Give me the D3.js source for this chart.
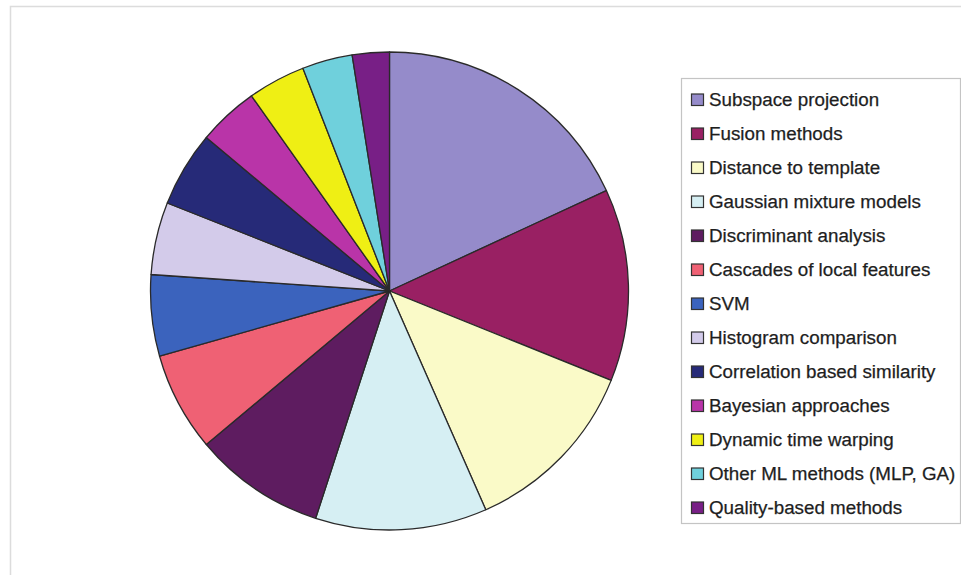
<!DOCTYPE html>
<html>
<head>
<meta charset="utf-8">
<script src="https://cdn.jsdelivr.net/npm/d3@7"></script>
<style>
  html, body { margin: 0; padding: 0; background: #ffffff; }
  svg { display: block; }
  text { font-family: "Liberation Sans", Arial, Helvetica, sans-serif; }
</style>
</head>
<body>
<svg id="chart" width="961" height="575"></svg>
<script>
const categories = [
  "Subspace projection",
  "Fusion methods",
  "Distance to template",
  "Gaussian mixture models",
  "Discriminant analysis",
  "Cascades of local features",
  "SVM",
  "Histogram comparison",
  "Correlation based similarity",
  "Bayesian approaches",
  "Dynamic time warping",
  "Other ML methods (MLP, GA)",
  "Quality-based methods"
];
const values = [18.1, 13.0, 12.3, 11.6, 8.9, 6.7, 5.5, 4.9, 5.1, 4.1, 3.9, 3.4, 2.5];
const colors = [
  "#958bca", "#992063", "#fafac8", "#d6eff3", "#5e1c60", "#ef6174", "#3b63bd",
  "#d3cbea", "#262a78", "#b934a8", "#efef14", "#6fd0dc", "#781f86"
];

const svg = d3.select("#chart");

// outer light frame
svg.append("rect")
  .attr("x", 10.5).attr("y", 6.5)
  .attr("width", 970).attr("height", 600)
  .attr("fill", "none").attr("stroke", "#dcdcdc").attr("stroke-width", 1.5);

const cx = 389.5, cy = 291, r = 239;

const data = categories.map((c, i) => ({ name: c, value: values[i], color: colors[i] }));

const pie = d3.pie().value(d => d.value).sort(null)
  .startAngle(0).endAngle(2 * Math.PI);
const arc = d3.arc().innerRadius(0).outerRadius(r);

const g = svg.append("g").attr("transform", `translate(${cx},${cy})`);
g.selectAll("path")
  .data(pie(data))
  .join("path")
  .attr("d", arc)
  .attr("fill", d => d.data.color)
  .attr("stroke", "#2a2a2a")
  .attr("stroke-width", 1.3)
  .attr("stroke-linejoin", "round");

// legend
const lx = 681, ly = 78, lw = 279, lh = 445;
svg.append("rect")
  .attr("x", lx + 0.5).attr("y", ly + 0.5)
  .attr("width", lw).attr("height", lh)
  .attr("fill", "#ffffff").attr("stroke", "#c4c4c4").attr("stroke-width", 1.2);

const rowScale = d3.scalePoint().domain(categories).range([99.5, 507.5]);

const items = svg.append("g").selectAll("g")
  .data(data)
  .join("g")
  .attr("transform", d => `translate(0,${rowScale(d.name)})`);

items.append("rect")
  .attr("x", 691.5).attr("y", -5.5)
  .attr("width", 12).attr("height", 11.5)
  .attr("fill", d => d.color)
  .attr("stroke", "#333333").attr("stroke-width", 1.2);

items.append("text")
  .attr("x", 709)
  .attr("y", 6.6)
  .attr("font-size", "18.8px")
  .attr("fill", "#1e1e1e")
  .attr("stroke", "#1e1e1e")
  .attr("stroke-width", 0.25)
  .text(d => d.name);
</script>
</body>
</html>
